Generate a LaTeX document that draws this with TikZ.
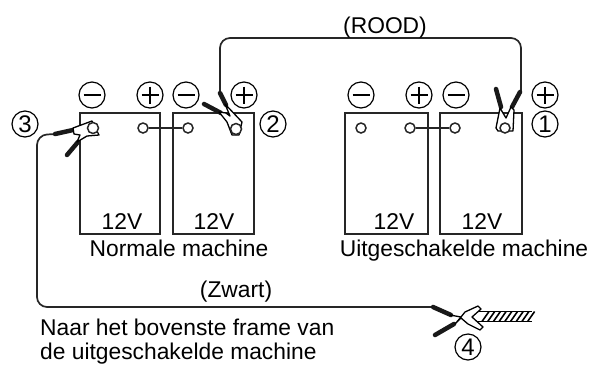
\documentclass[tikz,border=0pt]{standalone}
\usepackage{fontspec}
\setmainfont{Liberation Sans}
\tikzset{
 ln/.style={line width=1.5bp,draw=black!85},
 bat/.style={ln,rectangle,inner sep=0pt,anchor=north west},
 term/.style={ln,circle,fill=white,minimum size=10bp,inner sep=0pt},
 sign/.style={line width=1.2bp,draw=black,circle,minimum size=26bp,inner sep=0pt,font=\fontsize{24bp}{24bp}\selectfont},
 lbl/.style={font=\fontsize{22.8bp}{26bp}\selectfont,inner sep=0pt,anchor=base},
 wire/.style={line width=1.7bp,draw=black!85,rounded corners=10bp},
 jaw/.style={line width=1.3bp,draw=black,fill=white,line join=round},
 grip/.style={line width=4.5bp,draw=black!90,line cap=round},
}
\begin{document}
\begin{tikzpicture}[x=1bp,y=-1bp]
\useasboundingbox (0,0) rectangle (597,365);
% batteries
\node[bat,minimum width=80bp,minimum height=121bp] (b1) at (79,112) {};
\node[bat,minimum width=81bp,minimum height=121bp] (b2) at (172,112) {};
\node[bat,minimum width=83bp,minimum height=121bp] (b3) at (344,112) {};
\node[bat,minimum width=82bp,minimum height=121bp] (b4) at (439,112) {};
% terminals
\node[term] (t1) at (143,128) {};
\node[term] (t2) at (188,128) {};
\node[term] (t3) at (361,128) {};
\node[term] (t4) at (410,128) {};
\node[term] (t5) at (455,128) {};
\draw[ln] (t1) -- (t2);
\draw[ln] (t4) -- (t5);
% signs
\node[sign] (m1) at (92,95) {};
\node[sign] (p1) at (150,95) {};
\node[sign] (m2) at (186,95) {};
\node[sign] (p2) at (244,95) {};
\node[sign] (m3) at (361,95) {};
\node[sign] (p3) at (419,95) {};
\node[sign] (m4) at (456,95) {};
\node[sign] (p4) at (545,95) {};
\foreach \n in {m1,m2,m3,m4,p1,p2,p3,p4}{\draw[line width=1.7bp] (\n.center) ++(-8.5,0) -- ++(17,0);}
\foreach \n in {p1,p2,p3,p4}{\draw[line width=1.7bp] (\n.center) ++(0,-8.5) -- ++(0,17);}
\node[sign] (n1) at (545,124) {1};
\node[sign] (n2) at (273,124) {2};
\node[sign] (n3) at (25,124) {3};
\node[sign] (n4) at (468,347) {4};
% wires
\coordinate (r1) at (220,93);
\coordinate (r2) at (521,92);
\draw[wire] (r1) -- (220,38) -- (521,38) -- (r2);
\coordinate (k1) at (56,134);
\coordinate (k2) at (432,307);
\draw[wire] (k1) -- (37,135) -- (37,307) -- (k2);
% clamp 2
\draw[grip] (220,93) -- (226,105);
\draw[grip] (204,104) -- (221,113);
\draw[jaw] (225,104) -- (242,122) -- (239,135) -- (232,135) -- (227,122) -- (219,112) -- (226,113) -- (230,116) -- cycle;
\node[term,minimum size=11bp] (c2) at (236,129) {};
% clamp 3
\draw[grip] (55,134) -- (73,130);
\draw[grip] (67,155) -- (78,142);
\draw[jaw] (73,128) -- (92,121) -- (99,135) -- (87,136) -- (77,142) -- (80,135) -- (74,134) -- cycle;
\node[term,minimum size=11bp] (c3) at (93,128) {};
% clamp 1
\draw[grip] (496,89) -- (501,107);
\draw[grip] (520,92) -- (512,107);
\draw[jaw] (500,108) -- (496,128) -- (498,131) -- (513,131) -- (514,110) -- (511,107) -- (506,118) -- cycle;
\node[term,minimum size=10bp] (c1) at (505,128) {};
% clamp 4 and cable
\draw[line width=1.5bp] (476,311.5) -- (532,311.5) (476,321.5) -- (532,321.5);
\foreach \i in {0,...,8}{\draw[line width=1.6bp] (482+5.7*\i,321.5) -- (489+5.7*\i,311.5);}
\draw[grip] (433,307) -- (451,315);
\draw[grip] (435,335) -- (454,324);
\draw[jaw] (450,315) -- (461,317) -- (465,312) -- (478,306) -- (481,309) -- (472,317) -- (483,327) -- (480,330) -- (468,324) -- (461,318) -- (455,324) -- (461,317) -- cycle;
% texts
\node[lbl] (t12a) at (122,229) {12V};
\node[lbl] (t12b) at (214,229) {12V};
\node[lbl] (t12c) at (394,229) {12V};
\node[lbl] (t12d) at (482,229) {12V};
\node[lbl] (nm) at (179,256) {Normale machine};
\node[lbl] (um) at (464,256) {Uitgeschakelde machine};
\node[lbl] (rd) at (385,33) {(ROOD)};
\node[lbl] (zw) at (236,297) {(Zwart)};
\node[lbl,anchor=base west] (n1t) at (40,335) {Naar het bovenste frame van};
\node[lbl,anchor=base west] (n2t) at (40,359) {de uitgeschakelde machine};
\end{tikzpicture}
\end{document}
